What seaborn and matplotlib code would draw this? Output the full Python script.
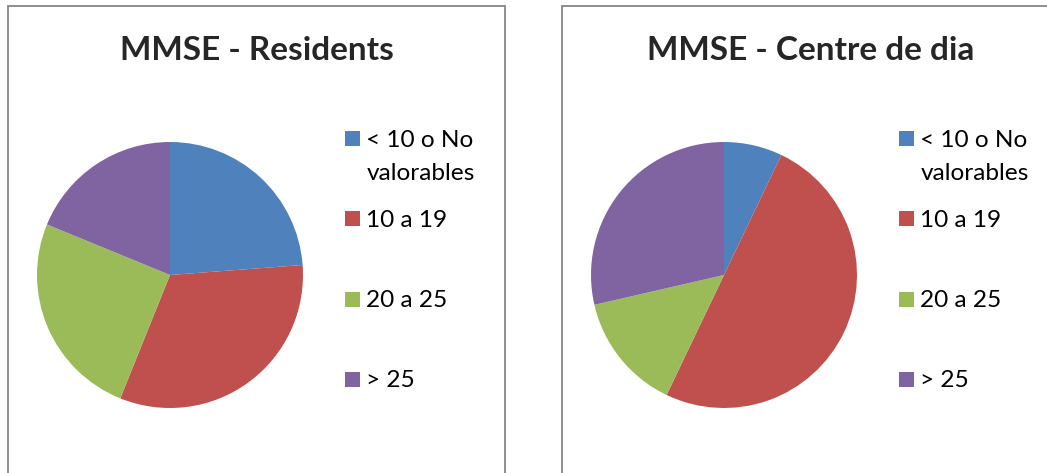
import matplotlib
matplotlib.use("Agg")
import matplotlib.pyplot as plt
import matplotlib.patches as mpatches
import seaborn as sns

categories = ["< 10 o No\nvalorables", "10 a 19", "20 a 25", "> 25"]
residents = [23.8, 32.3, 25.1, 18.8]
centre_dia = [7.1, 50.0, 14.3, 28.6]
titles = ["MMSE - Residents", "MMSE - Centre de dia"]

sns.set_theme(style="white")
plt.rcParams['font.family'] = ['Lato', 'DejaVu Sans']
colors = sns.color_palette(["#4F81BD", "#C0504D", "#9BBB59", "#8064A2"])

W, H = 1047, 473
fig = plt.figure(figsize=(W / 100, H / 100), dpi=100)


def px(x, y, w, h):
    return [x / W, 1 - (y + h) / H, w / W, h / H]


panels = [(8, residents), (562, centre_dia)]
for (x0, vals), title in zip(panels, titles):
    # panel frame
    fig.add_artist(mpatches.Rectangle((x0 / W, -0.1), 497 / W, (H - 6) / H + 0.1,
                                      transform=fig.transFigure, fill=False,
                                      edgecolor="#868686", lw=1.3))
    r = 133
    cx = x0 + 162
    ax = fig.add_axes(px(cx - r, 275 - r, 2 * r, 2 * r))
    ax.pie(vals, colors=colors, startangle=90, counterclock=False,
           wedgeprops=dict(linewidth=0))
    ax.set_xlim(-1, 1)
    ax.set_ylim(-1, 1)
    ax.set_aspect('equal')
    ax.axis('off')

    fig.text((x0 + 248.5) / W, 1 - 50 / H, title, ha='center', va='center',
             fontsize=24, fontweight='bold')

    # legend, laid out like the Excel one
    for i, (label, c) in enumerate(zip(categories, colors)):
        base = 146.5 + 80.3 * i
        fig.add_artist(mpatches.Rectangle(((x0 + 337) / W, 1 - (base - 0.5) / H),
                                          15 / W, 15 / H, transform=fig.transFigure,
                                          facecolor=c, edgecolor='none'))
        for j, line in enumerate(label.split("\n")):
            fig.text((x0 + 358.5) / W, 1 - (base + 33 * j) / H, line,
                     ha='left', va='baseline', fontsize=17.6, color='black')

fig.savefig("out.png", dpi=100)
